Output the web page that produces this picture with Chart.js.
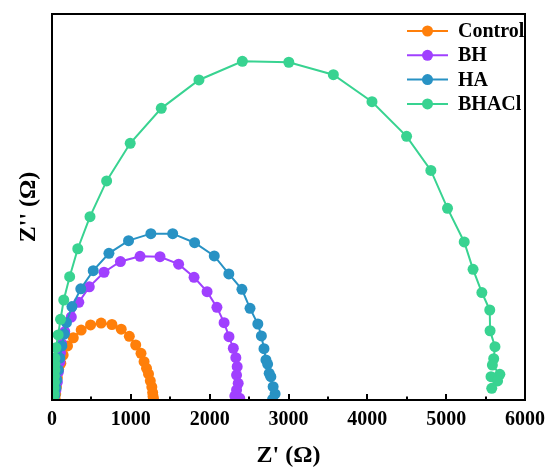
<!DOCTYPE html>
<html>
<head>
<meta charset="utf-8">
<script src="https://cdn.jsdelivr.net/npm/chart.js@4"></script>
<style>
    body { margin: 0; background: #fff; }
    #wrap { width: 555px; height: 471px; }
</style>
</head>
<body>
<div id="wrap"><canvas id="nyquistChart" width="555" height="471"></canvas></div>
<script>
// Nyquist data (Z' and Z'' in ohm)
const seriesNames = ['Control', 'BH', 'HA', 'BHACl'];
const seriesColors = ['#ff7f0a', '#a040ff', '#2892c4', '#38d391'];

const controlX = [40, 47, 56, 68, 84, 112, 141, 197, 270, 370, 489, 623, 760, 878, 981, 1062, 1129, 1168, 1199, 1224, 1247, 1266, 1277, 1282, 1289];
const controlY = [10, 50, 110, 185, 255, 304, 373, 448, 516, 580, 622, 638, 626, 587, 528, 456, 387, 318, 263, 216, 159, 108, 62, 29, 5];

const bhX = [31, 50, 68, 81, 100, 108, 121, 162, 245, 340, 473, 660, 868, 1117, 1370, 1606, 1802, 1967, 2092, 2183, 2245, 2300, 2332, 2349, 2341, 2362, 2341, 2319, 2382];
const bhY = [33, 83, 149, 232, 315, 390, 470, 566, 688, 810, 938, 1059, 1148, 1191, 1188, 1126, 1017, 898, 768, 641, 525, 429, 351, 276, 207, 138, 83, 33, 14];

const haX = [37, 50, 62, 81, 100, 125, 156, 183, 253, 365, 523, 722, 971, 1254, 1531, 1809, 2058, 2243, 2409, 2512, 2611, 2656, 2689, 2714, 2735, 2755, 2776, 2805, 2830, 2798];
const haY = [41, 100, 166, 249, 348, 448, 547, 641, 775, 922, 1072, 1216, 1321, 1379, 1379, 1304, 1194, 1045, 918, 760, 630, 531, 425, 332, 298, 221, 193, 110, 50, 6];

const bhaclX = [19, 25, 25, 31, 31, 37, 37, 37, 50, 78, 108, 149, 224, 327, 482, 693, 992, 1386, 1864, 2415, 3004, 3569, 4059, 4498, 4806, 5017, 5229, 5341, 5453, 5553, 5557, 5619, 5603, 5586, 5681, 5569, 5652, 5578];
const bhaclY = [8, 50, 100, 149, 199, 249, 298, 348, 434, 539, 669, 829, 1022, 1254, 1520, 1816, 2128, 2418, 2653, 2808, 2800, 2697, 2473, 2186, 1903, 1589, 1310, 1083, 891, 746, 574, 442, 342, 290, 213, 193, 158, 97];

// x axis ticks
const xMin = 0;
const xMax = 6000;
const xStep = 1000;
const yMax = 3200;

const serifFont = "'Liberation Serif', 'Times New Roman', serif";

function toPoints(xs, ys) {
    return xs.map(function(x, i) { return { x: x, y: ys[i] }; });
}

const allX = [controlX, bhX, haX, bhaclX];
const allY = [controlY, bhY, haY, bhaclY];

// Control at the bottom, BHACl on top
const datasets = seriesNames.map(function(name, i) {
    return {
        label: name,
        data: toPoints(allX[i], allY[i]),
        showLine: true,
        borderColor: seriesColors[i],
        backgroundColor: seriesColors[i],
        borderWidth: 2,
        pointRadius: 5.5,
        pointBorderWidth: 0,
        pointBackgroundColor: seriesColors[i],
        order: seriesNames.length - i
    };
});

// Inward ticks on the bottom axis plus the black frame
const framePlugin = {
    id: 'frame',
    afterDraw: function(chart) {
        const ctx = chart.ctx;
        const area = chart.chartArea;
        const xScale = chart.scales.x;
        ctx.save();
        ctx.fillStyle = '#000';
        for (let v = xMin + xStep / 2; v < xMax; v += xStep / 2) {
            const px = Math.round(xScale.getPixelForValue(v));
            const len = (v % xStep === 0) ? 6 : 3.5;
            ctx.fillRect(px - 1, area.bottom - len, 2, len);
        }
        ctx.strokeStyle = '#000';
        ctx.lineWidth = 2;
        ctx.strokeRect(area.left, area.top, area.right - area.left, area.bottom - area.top);
        ctx.restore();
    }
};

// Legend inside the plot, line with a dot
const legendPlugin = {
    id: 'insideLegend',
    afterDraw: function(chart) {
        const ctx = chart.ctx;
        const x0 = 407;
        const x1 = 448;
        const y0 = 31;
        const rowGap = 24.3;
        ctx.save();
        ctx.font = 'bold 20px ' + serifFont;
        ctx.textBaseline = 'middle';
        chart.data.datasets.forEach(function(ds, i) {
            const y = y0 + i * rowGap;
            ctx.strokeStyle = ds.borderColor;
            ctx.lineWidth = 2;
            ctx.beginPath();
            ctx.moveTo(x0, y);
            ctx.lineTo(x1, y);
            ctx.stroke();
            ctx.fillStyle = ds.borderColor;
            ctx.beginPath();
            ctx.arc((x0 + x1) / 2, y, 5.5, 0, Math.PI * 2);
            ctx.fill();
            ctx.fillStyle = '#000';
            ctx.fillText(ds.label, 458, y + 1);
        });
        ctx.restore();
    }
};

new Chart(document.getElementById('nyquistChart'), {
    type: 'scatter',
    data: { datasets: datasets },
    plugins: [framePlugin, legendPlugin],
    options: {
        responsive: false,
        animation: false,
        layout: { padding: { left: 0, right: 21.5, top: 14, bottom: 0 } },
        plugins: {
            legend: { display: false },
            tooltip: { enabled: false }
        },
        scales: {
            x: {
                type: 'linear',
                min: xMin,
                max: xMax,
                grid: { display: false, drawTicks: false },
                border: { display: false },
                ticks: {
                    stepSize: xStep,
                    padding: 10,
                    color: '#000',
                    maxRotation: 0,
                    callback: function(value) { return String(value); },
                    font: { family: serifFont, size: 20, weight: 'bold', lineHeight: 1 }
                },
                title: {
                    display: true,
                    text: "Z' (\u03A9)",
                    color: '#000',
                    padding: { top: 0, bottom: 3 },
                    font: { family: serifFont, size: 24, weight: 'bold', lineHeight: 1 }
                },
                afterFit: function(scale) { scale.height = 71; }
            },
            y: {
                type: 'linear',
                min: 0,
                max: yMax,
                grid: { display: false, drawTicks: false },
                border: { display: false },
                ticks: { display: false },
                title: {
                    display: true,
                    text: "Z'' (\u03A9)",
                    color: '#000',
                    padding: { top: 17, bottom: 0 },
                    font: { family: serifFont, size: 24, weight: 'bold', lineHeight: 1 }
                },
                afterFit: function(scale) { scale.width = 52; }
            }
        }
    }
});
</script>
</body>
</html>
